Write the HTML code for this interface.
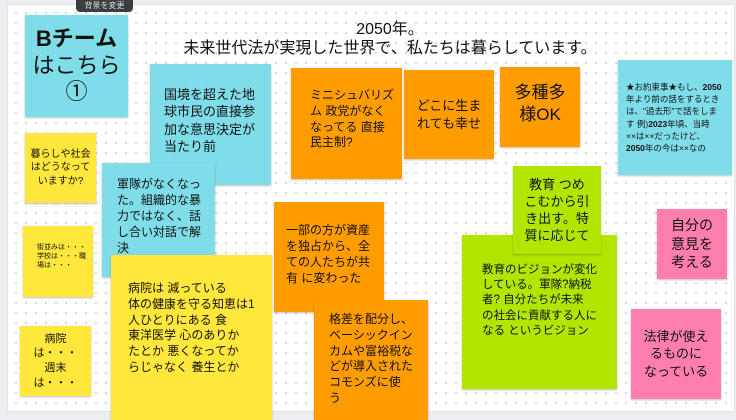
<!DOCTYPE html>
<html><head><meta charset="utf-8"><style>
html,body{margin:0;padding:0}
body{width:736px;height:416px;position:relative;overflow:hidden;background:#eceef1;font-family:"Liberation Sans","Noto Sans CJK JP",sans-serif;color:#111}
#board{position:absolute;left:7px;top:4px;width:726px;height:406px;background-color:#fff;background-image:radial-gradient(circle,#cfd2d6 0.9px,transparent 1.2px);background-size:10px 10px;background-position:3px 3px;border:1px solid #dfe1e4}
.n{position:absolute;box-sizing:border-box;display:flex;align-items:center;box-shadow:0 1px 2px rgba(0,0,0,.25);line-height:1.32}
.n>div{white-space:nowrap}
.b{background:#7fdde9}.o{background:#ff9c00}.y{background:#ffe83b}.g{background:#b2e600}.p{background:#ff7eb0}
.c{justify-content:center;text-align:center}
.tip{position:absolute;left:76px;top:-6px;width:57px;height:18px;background:#3a3d42;border-radius:4px;color:#ddd;font-size:8px;text-align:center;line-height:24px}
</style></head><body>
<div id="board"></div>
<div class="tip">背景を変更</div>
<div style="position:absolute;left:150px;top:20px;width:480px;text-align:center;font-size:16px;line-height:19px">2050年。<br>未来世代法が実現した世界で、私たちは暮らしています。</div>

<div class="n b c" style="left:25px;top:15px;width:103px;height:102px;font-size:22px;line-height:1.2"><div><b>Bチーム</b><br>はこちら<br>①</div></div>
<div class="n b" style="left:150px;top:64px;width:121px;height:121px;font-size:13px;padding-left:14px;padding-bottom:8px"><div>国境を超えた地<br>球市民の直接参<br>加な意思決定が<br>当たり前</div></div>
<div class="n o" style="left:291px;top:68px;width:111px;height:111px;font-size:12px;padding-left:19px;padding-bottom:8px"><div>ミニシュバリズ<br>ム 政党がなく<br>なってる 直接<br>民主制?</div></div>
<div class="n o c" style="left:404px;top:70px;width:90px;height:89px;font-size:13px"><div>どこに生ま<br>れても幸せ</div></div>
<div class="n o c" style="left:500px;top:67px;width:80px;height:80px;font-size:17px;padding-bottom:6px"><div>多種多<br>様OK</div></div>
<div class="n b" style="left:618px;top:60px;width:114px;height:115px;font-size:8.5px;padding-left:8px;line-height:1.45"><div>★お約束事★もし、<b>2050</b><br>年より前の話をするとき<br>は、"過去形"で話をしま<br>す 例)<b>2023</b>年頃、当時<br>××は××だったけど、<br><b>2050</b>年の今は××なの</div></div>
<div class="n y c" style="left:25px;top:133px;width:71px;height:70px;font-size:10px"><div>暮らしや社会<br>はどうなって<br>いますか?</div></div>
<div class="n b" style="left:102px;top:163px;width:113px;height:114px;font-size:12px;padding-left:15px;padding-bottom:6px"><div>軍隊がなくなっ<br>た。組織的な暴<br>力ではなく、話<br>し合い対話で解<br>決</div></div>
<div class="n o" style="left:274px;top:202px;width:110px;height:110px;font-size:12px;padding-left:12px;padding-bottom:4px"><div>一部の方が資産<br>を独占から、全<br>ての人たちが共<br>有 に変わった</div></div>
<div class="n g" style="left:462px;top:235px;width:155px;height:154px;font-size:11.5px;padding-left:20px;padding-bottom:22px"><div>教育のビジョンが変化<br>している。軍隊?納税<br>者? 自分たちが未来<br>の社会に貢献する人に<br>なる というビジョン</div></div>
<div class="n g c" style="left:513px;top:166px;width:88px;height:88px;font-size:13px"><div>教育 つめ<br>こむから引<br>き出す。特<br>質に応じて</div></div>
<div class="n p c" style="left:657px;top:209px;width:70px;height:70px;font-size:14px"><div>自分の<br>意見を<br>考える</div></div>
<div class="n y" style="left:23px;top:226px;width:70px;height:71px;font-size:7px;padding-left:14px;padding-bottom:10px"><div>街並みは・・・<br>学校は・・・職<br>場は・・・</div></div>
<div class="n y" style="left:111px;top:255px;width:161px;height:165px;font-size:12px;padding-left:17px;align-items:flex-start;padding-top:26px"><div>病院は 減っている<br>体の健康を守る知恵は1<br>人ひとりにある 食<br>東洋医学 心のありか<br>たとか 悪くなってか<br>らじゃなく 養生とか</div></div>
<div class="n o" style="left:314px;top:300px;width:114px;height:120px;font-size:12px;padding-left:15px;align-items:flex-start;padding-top:12px"><div>格差を配分し、<br>ベーシックイン<br>カムや富裕税な<br>どが導入された<br>コモンズに使<br>う</div></div>
<div class="n p c" style="left:631px;top:309px;width:90px;height:90px;font-size:13px"><div>法律が使え<br>るものに<br>なっている</div></div>
<div class="n y c" style="left:20px;top:326px;width:71px;height:70px;font-size:11px"><div>病院<br>は・・・<br>週末<br>は・・・</div></div>
</body></html>
